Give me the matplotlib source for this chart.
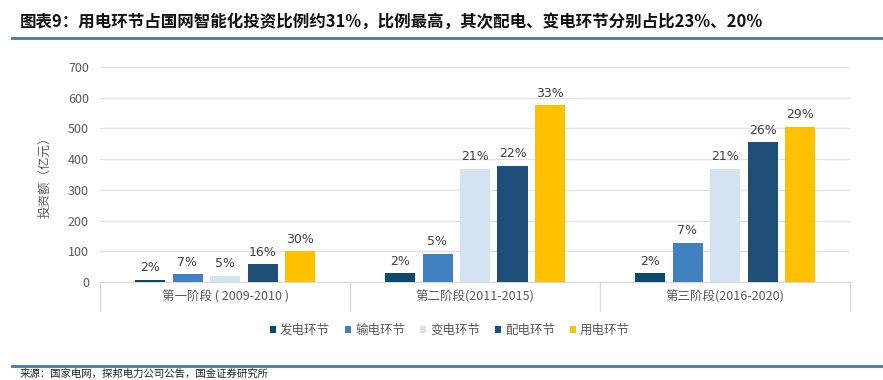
import numpy as np
import matplotlib.pyplot as plt
from matplotlib.lines import Line2D

plt.rcParams['font.family'] = ['Noto Sans CJK SC', 'DejaVu Sans']

# data
stages = ['第一阶段 ( 2009-2010 )', '第二阶段(2011-2015)', '第三阶段(2016-2020)']
segments = ['发电环节', '输电环节', '变电环节', '配电环节', '用电环节']
values = [
    [8, 29, 29],      # 发电环节
    [25, 92, 127],    # 输电环节
    [20, 368, 368],   # 变电环节
    [57, 379, 455],   # 配电环节
    [100, 576, 505],  # 用电环节
]
shares = [
    ['2%', '2%', '2%'],
    ['7%', '5%', '7%'],
    ['5%', '21%', '21%'],
    ['16%', '22%', '26%'],
    ['30%', '33%', '29%'],
]
colors = ['#0B4A6E', '#4180BF', '#D3E3F2', '#1F4E79', '#FFC000']
yticks = [0, 100, 200, 300, 400, 500, 600, 700]

fig = plt.figure(figsize=(8.83, 3.8), dpi=100)
ax = fig.add_axes([100 / 883, 1 - 282 / 380, 750 / 883, 215 / 380])

x = np.arange(len(stages))
pitch = 0.15
width = 0.12
for i, seg in enumerate(segments):
    pos = x + (i - 2) * pitch
    ax.bar(pos, values[i], width, color=colors[i], label=seg, zorder=3)
    for p, v, s in zip(pos, values[i], shares[i]):
        ax.text(p, v + 18, s, ha='center', va='bottom', fontsize=9,
                color='#404040', family='DejaVu Sans')

ax.set_xlim(-0.5, 2.5)
ax.set_ylim(0, 700)
ax.set_yticks(yticks)
ax.tick_params(axis='y', length=0, labelsize=9, labelcolor='#595959', pad=8)
ax.set_xticks([])
ax.grid(axis='y', color='#E3E3E3', linewidth=1, zorder=0)
for side in ['top', 'right', 'left']:
    ax.spines[side].set_visible(False)
ax.spines['bottom'].set_color('#D9D9D9')

# category separators below the axis
for b in [-0.5, 0.5, 1.5, 2.5]:
    ax.plot([b, b], [0, -0.135], transform=ax.get_xaxis_transform(),
            color='#D9D9D9', linewidth=1, clip_on=False)
for xi, lab in zip(x, stages):
    ax.text(xi, -0.04, lab, transform=ax.get_xaxis_transform(), ha='center',
            va='top', fontsize=9, color='#595959')

ax.set_ylabel('投资额（亿元）', fontsize=9, color='#595959', labelpad=12)

ax.legend(loc='center', bbox_to_anchor=(450 / 883, 1 - 330 / 380),
          bbox_transform=fig.transFigure, ncol=5, frameon=False, fontsize=9,
          handlelength=0.5, handleheight=0.5, handletextpad=0.3,
          columnspacing=1.2, labelcolor='#595959')

fig.text(20 / 883, 1 - 22 / 380,
         '图表9：用电环节占国网智能化投资比例约31%，比例最高，其次配电、变电环节分别占比23%、20%',
         fontsize=11.9, fontweight='bold', style='italic', color='#111111',
         ha='left', va='center')
fig.add_artist(Line2D([12 / 883, 1], [1 - 38 / 380] * 2, color='#3E7CA6', linewidth=2))
fig.add_artist(Line2D([12 / 883, 1], [1 - 366 / 380] * 2, color='#3E7CA6', linewidth=2))
fig.text(20 / 883, 1 - 374 / 380,
         '来源：国家电网，探邦电力公司公告，国金证券研究所',
         fontsize=7.5, color='#222222', ha='left', va='center')

fig.savefig('out.png', dpi=100)
